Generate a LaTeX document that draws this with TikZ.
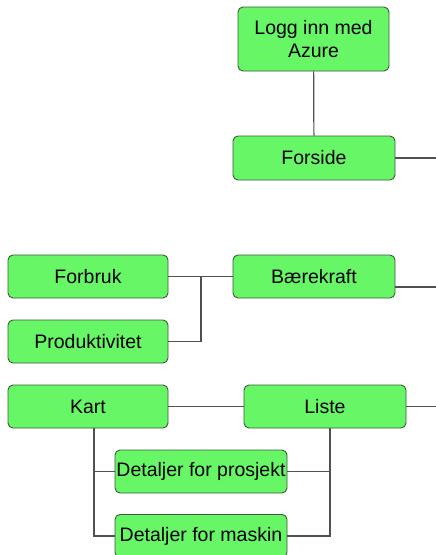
\documentclass[tikz,border=0pt]{standalone}
\usepackage{fontspec}
\setmainfont{Liberation Sans}
\definecolor{boxfill}{RGB}{102,246,102}
\definecolor{boxline}{RGB}{58,92,58}
\definecolor{wire}{RGB}{80,80,80}
\begin{document}
\begin{tikzpicture}[x=1pt,y=-1pt,
  box/.style={draw=boxline,fill=boxfill,line width=0.9pt,rounded corners=5pt,
    minimum height=43pt,inner sep=0pt,font=\fontsize{19.5}{23}\selectfont,align=center},
  wireline/.style={draw=wire,line width=1.2pt}]
\useasboundingbox[fill=white] (0,0) rectangle (436,555);
\node[box,minimum width=151pt,minimum height=64pt] (login) at (313.5,39) {Logg inn med\\Azure};
\node[box,minimum width=162pt,minimum height=44pt] (forside) at (314,158) {Forside};
\node[box,minimum width=162pt] (baer) at (314,276.5) {Bærekraft};
\node[box,minimum width=160pt] (forbruk) at (88,276.5) {Forbruk};
\node[box,minimum width=160pt] (prod) at (88,341.5) {Produktivitet};
\node[box,minimum width=160pt] (kart) at (88,406.5) {Kart};
\node[box,minimum width=162pt] (liste) at (325,406.5) {Liste};
\node[box,minimum width=172pt] (prosj) at (201,471.5) {Detaljer for prosjekt};
\node[box,minimum width=172pt] (maskin) at (201,536) {Detaljer for maskin};
\coordinate (e1) at (436,158);
\coordinate (e2) at (436,287);
\coordinate (e3) at (436,406.5);
\coordinate (j1) at (201,276.5);
\coordinate (kx) at (94,0);
\coordinate (lx) at (330,0);
\draw[wireline] (login) -- (forside);
\draw[wireline] (forside.east) -- (e1);
\draw[wireline] (baer.east |- e2) -- (e2);
\draw[wireline] (forbruk) -- (baer);
\draw[wireline] (prod.east) -| (j1);
\draw[wireline] (kart) -- (liste);
\draw[wireline] (liste.east) -- (e3);
\draw[wireline] (kart.south -| kx) |- (maskin.west);
\draw[wireline] (kx |- prosj.west) -- (prosj.west);
\draw[wireline] (liste.south -| lx) |- (maskin.east);
\draw[wireline] (prosj.east) -- (lx |- prosj.east);
\end{tikzpicture}
\end{document}
